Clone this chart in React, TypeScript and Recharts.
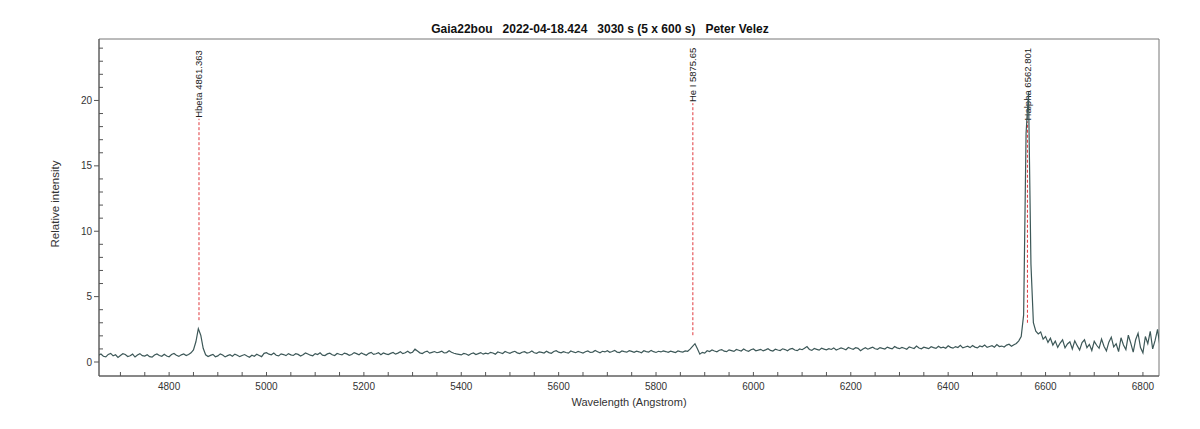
import { LineChart, Line, XAxis, YAxis, ReferenceLine, ReferenceArea } from "recharts";

// spectrum sampled every 5 Angstrom from 4655 to 6840
const WAVE_START = 4655;
const WAVE_STEP = 5;

const fluxBlue = [
  0.52, 0.61, 0.44, 0.39, 0.58, 0.66, 0.47, 0.55, 0.35, 0.50, 0.63, 0.57, 0.42, 0.48, 0.60, 0.38, 0.53, 0.64, 0.49, 0.45,
  0.56, 0.41, 0.37, 0.54, 0.62, 0.50, 0.44, 0.59, 0.46, 0.40, 0.57, 0.65, 0.52, 0.43, 0.55, 0.61, 0.49, 0.58, 0.70, 0.92,
  1.55, 2.55, 2.05, 1.05, 0.55, 0.42, 0.51, 0.58, 0.40, 0.47, 0.62, 0.53, 0.39, 0.49, 0.56, 0.44, 0.60, 0.52, 0.41, 0.50,
  0.57, 0.46, 0.36, 0.52, 0.44, 0.59, 0.50, 0.41, 0.66, 0.71, 0.60, 0.55, 0.68, 0.52, 0.47, 0.62, 0.57, 0.49, 0.64, 0.55,
  0.50, 0.63, 0.58, 0.46, 0.55, 0.69, 0.61, 0.52, 0.48, 0.64, 0.57, 0.70, 0.53, 0.49, 0.62, 0.67, 0.55, 0.50, 0.65, 0.59,
  0.54, 0.68, 0.62, 0.51, 0.57, 0.72, 0.64, 0.55, 0.70, 0.60, 0.52, 0.66, 0.74, 0.58, 0.63, 0.71, 0.56, 0.69, 0.62, 0.57,
  0.66, 0.73, 0.60, 0.68, 0.78, 0.64, 0.71, 0.82, 0.69, 0.75, 0.98, 0.84, 0.70, 0.65, 0.77, 0.83, 0.68, 0.74, 0.80, 0.71,
  0.76, 0.83, 0.69, 0.72, 0.86, 0.74, 0.67, 0.62, 0.58, 0.54, 0.66, 0.61, 0.52, 0.63, 0.69, 0.57, 0.64, 0.72, 0.60, 0.68,
];

const fluxGreen = [
  0.62, 0.74, 0.69, 0.60, 0.77, 0.71, 0.65, 0.80, 0.73, 0.67, 0.76, 0.82, 0.70, 0.64, 0.75, 0.79, 0.68, 0.73, 0.84, 0.71,
  0.66, 0.78, 0.74, 0.69, 0.83, 0.72, 0.67, 0.80, 0.86, 0.75, 0.70, 0.79, 0.73, 0.68, 0.84, 0.77, 0.71, 0.81, 0.75, 0.69,
  0.78, 0.85, 0.73, 0.76, 0.88, 0.79, 0.70, 0.82, 0.77, 0.86, 0.74, 0.80, 0.89, 0.76, 0.72, 0.84, 0.79, 0.75, 0.87, 0.81,
  0.74, 0.83, 0.78, 0.71, 0.86, 0.80, 0.76, 0.89, 0.79, 0.73, 0.82, 0.77, 0.85, 0.80, 0.74, 0.83, 0.78, 0.72, 0.84, 0.79,
  0.76, 0.85, 0.82, 0.98, 1.20, 1.40, 1.02, 0.60, 0.74, 0.68, 0.86, 0.80, 0.92, 0.84, 0.78, 0.90, 0.95, 0.83, 0.79, 0.93,
  0.87, 0.81, 0.96, 0.90, 0.84, 0.99, 0.88, 0.82, 0.94, 1.00, 0.86, 0.91, 0.97, 0.85, 0.93, 1.02, 0.89, 0.84, 0.98, 0.92,
  0.88, 1.01, 0.95, 0.86, 0.99, 1.04, 0.92, 0.87, 1.00, 0.94, 1.06, 1.18, 0.96, 0.89, 1.03, 0.97, 0.91, 1.05, 0.99, 0.93,
];

const fluxRed = [
  1.02, 0.96, 1.08, 0.92, 0.99, 1.07, 1.01, 0.94, 1.11, 1.03, 0.97, 1.09, 1.04, 0.86, 1.00, 1.10, 0.98, 1.06, 1.13, 1.01,
  0.97, 1.10, 1.04, 0.99, 1.14, 1.06, 1.00, 1.18, 1.08, 1.02, 1.12, 1.05, 0.98, 1.16, 1.09, 1.03, 1.22, 1.07, 1.01, 1.13,
  1.08, 1.02, 1.17, 1.10, 1.04, 1.20, 1.09, 1.14, 1.05, 1.24, 1.12, 1.06, 1.18, 1.11, 1.27, 1.08, 1.15, 1.21, 1.10, 1.26,
  1.14, 1.08, 1.23, 1.16, 1.30, 1.12, 1.19, 1.25, 1.13, 1.33, 1.18, 1.22, 1.15, 1.29, 1.36, 1.20, 1.32, 1.42, 1.62, 1.95,
  3.6, 17.5, 20.6, 7.5, 3.0, 2.35, 2.15, 2.30, 1.75, 1.95, 1.50, 1.82, 1.30, 1.60, 1.12, 1.45, 1.70, 1.08, 1.38, 1.55,
  1.00, 1.62, 1.25, 0.92, 1.48, 1.70, 1.10, 1.35, 0.88, 1.58, 1.28, 1.05, 1.75, 1.20, 0.85, 1.52, 1.90, 1.15, 1.40, 0.80,
  1.85, 1.30, 0.95, 2.05, 1.45, 0.75, 1.70, 2.20, 1.10, 0.70, 1.95, 1.40, 2.35, 1.00, 1.65, 2.50, 1.20, 2.00,
];

const xTicks = [
  4700, 4750, 4800, 4850, 4900, 4950, 5000, 5050, 5100, 5150, 5200, 5250, 5300, 5350, 5400, 5450, 5500, 5550,
  5600, 5650, 5700, 5750, 5800, 5850, 5900, 5950, 6000, 6050, 6100, 6150, 6200, 6250, 6300, 6350, 6400, 6450,
  6500, 6550, 6600, 6650, 6700, 6750, 6800,
];
const yTicks = [0, 1, 2, 3, 4, 5, 6, 7, 8, 9, 10, 11, 12, 13, 14, 15, 16, 17, 18, 19, 20, 21, 22, 23, 24];

// identified lines: wavelength, label, dashed segment bottom/top (intensity)
const lineNames = ["Hbeta 4861.363", "He I 5875.65", "Halpha 6562.801"];
const lineWaves = [4861.363, 5875.65, 6562.801];
const lineBottoms = [3.2, 2.05, 3.0];
const lineTops = [18.6, 19.8, 18.4];

const X_MIN = 4656;
const X_MAX = 6833;
const Y_MIN = -1.07;
const Y_MAX = 24.7;

const data = [...fluxBlue, ...fluxGreen, ...fluxRed].map((f, i) => ({
  wave: WAVE_START + i * WAVE_STEP,
  flux: f,
}));

const FONT = '"Liberation Sans", Arial, sans-serif';
const AXIS = "#555";

const XTick = (props: any) => {
  const { x, y, payload } = props;
  const major = payload.value % 200 === 0;
  return (
    <g>
      <line x1={x} x2={x} y1={y} y2={y - 4} stroke={AXIS} />
      {major && (
        <text x={x} y={y + 14} textAnchor="middle" fontSize={10} fontFamily={FONT} fill="#333">
          {payload.value}
        </text>
      )}
    </g>
  );
};

const YTick = (props: any) => {
  const { x, y, payload } = props;
  const major = payload.value % 5 === 0;
  if (!major) return <line x1={x} x2={x + 4} y1={y} y2={y} stroke={AXIS} />;
  return (
    <g>
      <line x1={x - 5} x2={x} y1={y} y2={y} stroke={AXIS} />
      <text x={x - 7} y={y + 3.5} textAnchor="end" fontSize={10} fontFamily={FONT} fill="#333">
        {payload.value}
      </text>
    </g>
  );
};

const LineLabel = (props: any) => {
  const { viewBox, text } = props;
  const x = viewBox.x;
  const y = viewBox.y - 1;
  return (
    <text
      x={x}
      y={y}
      transform={`rotate(-90 ${x} ${y})`}
      textAnchor="start"
      dominantBaseline="central"
      fontSize={9.5}
      fontFamily={FONT}
      fill="#222"
    >
      {text}
    </text>
  );
};

export default function App() {
  return (
    <div style={{ position: "absolute", left: 0, top: 0, width: 1200, height: 429, background: "#fff" }}>
      <div
        style={{
          position: "absolute",
          top: 22,
          left: 0,
          width: 1200,
          textAlign: "center",
          fontFamily: FONT,
          fontWeight: "bold",
          fontSize: 12,
          lineHeight: "14px",
          whiteSpace: "pre",
          color: "#111",
        }}
      >
        {"Gaia22bou   2022-04-18.424   3030 s (5 x 600 s)   Peter Velez"}
      </div>
      <LineChart width={1200} height={429} data={data} margin={{ top: 39, right: 41, bottom: 23, left: 39 }}>
        <ReferenceArea
          x1={X_MIN}
          x2={X_MAX}
          y1={Y_MIN}
          y2={Y_MAX}
          fill="#fff"
          fillOpacity={0}
          stroke="#777"
          strokeOpacity={1}
        />
        <XAxis
          dataKey="wave"
          type="number"
          domain={[X_MIN, X_MAX]}
          allowDataOverflow
          ticks={xTicks}
          interval={0}
          tickLine={false}
          tickSize={0}
          tickMargin={0}
          tick={<XTick />}
          stroke={AXIS}
          height={30}
        />
        <YAxis
          type="number"
          domain={[Y_MIN, Y_MAX]}
          allowDataOverflow
          ticks={yTicks}
          interval={0}
          tickLine={false}
          tickSize={0}
          tickMargin={0}
          tick={<YTick />}
          stroke={AXIS}
          width={60}
        />
        {lineWaves.map((w, i) => (
          <ReferenceLine
            key={lineNames[i]}
            segment={[
              { x: w, y: lineBottoms[i] },
              { x: w, y: lineTops[i] },
            ]}
            stroke="#e0393e"
            strokeDasharray="3 2"
            label={<LineLabel text={lineNames[i]} />}
          />
        ))}
        <Line
          type="linear"
          dataKey="flux"
          stroke="#3d5858"
          strokeWidth={1.2}
          dot={false}
          isAnimationActive={false}
        />
      </LineChart>
      <div
        style={{
          position: "absolute",
          top: 396,
          left: 529,
          width: 200,
          textAlign: "center",
          fontFamily: FONT,
          fontSize: 11,
          lineHeight: "13px",
          color: "#333",
        }}
      >
        Wavelength (Angstrom)
      </div>
      <div
        style={{
          position: "absolute",
          left: 55,
          top: 204,
          transform: "translate(-50%, -50%) rotate(-90deg)",
          fontFamily: FONT,
          fontSize: 11.5,
          lineHeight: "13px",
          whiteSpace: "nowrap",
          color: "#333",
        }}
      >
        Relative intensity
      </div>
    </div>
  );
}
